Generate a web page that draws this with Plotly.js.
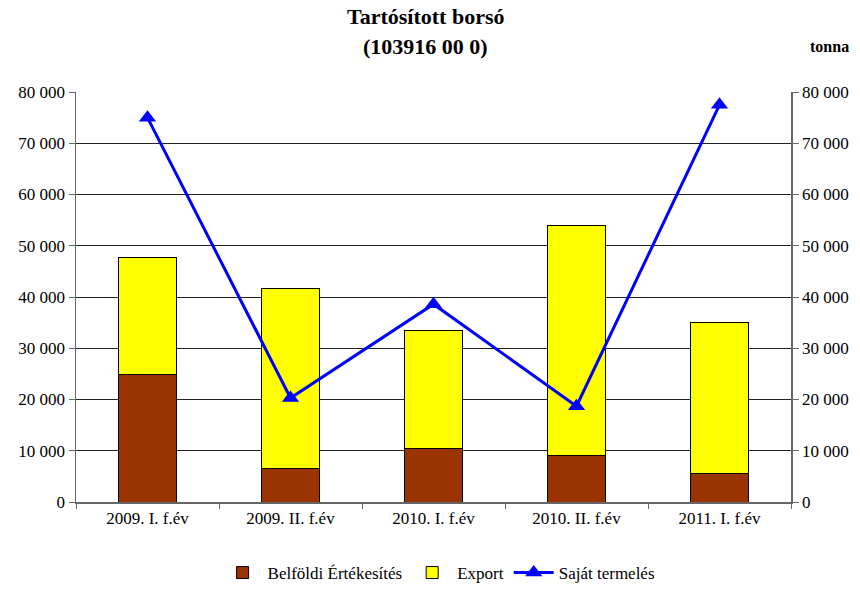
<!DOCTYPE html>
<html>
<head>
<meta charset="utf-8">
<script src="https://cdn.plot.ly/plotly-3.0.1.min.js"></script>
<style>body{margin:0;padding:0;background:#fff}#chart{width:860px;height:591px}</style>
</head>
<body>
<div id="chart"></div>
<script>
const categories = ["2009. I. f.év", "2009. II. f.év", "2010. I. f.év", "2010. II. f.év", "2011. I. f.év"];
const belfoldi = [24800, 6600, 10500, 9000, 5500];
const exportVals = [23000, 35100, 22900, 44900, 29600];
const sajat = [75000, 20300, 38600, 18700, 77500];
const tickVals = [0, 10000, 20000, 30000, 40000, 50000, 60000, 70000, 80000];

const fontFam = "Liberation Serif";

const traces = [
  {type: "bar", name: "Belföldi Értékesítés", x: categories, y: belfoldi,
   marker: {color: "#993300", line: {color: "#000", width: 1}}, width: 0.4},
  {type: "bar", name: "Export", x: categories, y: exportVals,
   marker: {color: "#FFFF00", line: {color: "#000", width: 1}}, width: 0.4},
  {type: "scatter", mode: "lines+markers", name: "Saját termelés", x: categories, y: sajat,
   yaxis: "y2",
   line: {color: "#0000FF", width: 3},
   marker: {symbol: "triangle-up", size: 15, color: "#0000FF"}}
];

const layout = {
  width: 860, height: 591,
  margin: {l: 76, r: 69, t: 92, b: 89},
  barmode: "stack",
  separators: ", ",
  paper_bgcolor: "#fff", plot_bgcolor: "#fff",
  font: {family: fontFam, size: 17, color: "#000"},
  showlegend: true,
  legend: {orientation: "h", x: 0.51, xanchor: "center", xref: "container", y: 0.0, yref: "container", yanchor: "bottom",
           font: {family: fontFam, size: 17}, traceorder: "normal", itemwidth: 40},
  xaxis: {type: "category", showline: true, linecolor: "#666", linewidth: 1.5,
          ticks: "outside", tickson: "boundaries", ticklen: 5, tickcolor: "#666", tickangle: 0,
          showgrid: false, tickfont: {family: fontFam, size: 17}},
  yaxis: {range: [0, 80000], tickvals: tickVals, tickformat: ",d", showline: true, linecolor: "#666", linewidth: 1.5,
          ticks: "outside", ticklen: 6, tickcolor: "#666", gridcolor: "#222", gridwidth: 1,
          zeroline: false, tickfont: {family: fontFam, size: 17}},
  yaxis2: {range: [0, 80000], tickvals: tickVals, tickformat: ",d", overlaying: "y", side: "right",
           showline: true, linecolor: "#666", linewidth: 1.5, ticks: "outside", ticklen: 6, tickcolor: "#666",
           showgrid: false, zeroline: false, tickfont: {family: fontFam, size: 17}},
  annotations: [
    {text: "<b>Tartósított borsó</b>", xref: "paper", yref: "paper", x: 0.489, y: 1.183, xanchor: "center", yanchor: "middle",
     showarrow: false, font: {family: fontFam, size: 22, color: "#000"}},
    {text: "<b>(103916 00 0)</b>", xref: "paper", yref: "paper", x: 0.489, y: 1.11, xanchor: "center", yanchor: "middle",
     showarrow: false, font: {family: fontFam, size: 22, color: "#000"}},
    {text: "<b>tonna</b>", xref: "paper", yref: "paper", x: 1.054, y: 1.11, xanchor: "center", yanchor: "middle",
     showarrow: false, font: {family: fontFam, size: 16, color: "#000"}}
  ]
};

Plotly.newPlot("chart", traces, layout, {displayModeBar: false, staticPlot: true});
</script>
</body>
</html>
